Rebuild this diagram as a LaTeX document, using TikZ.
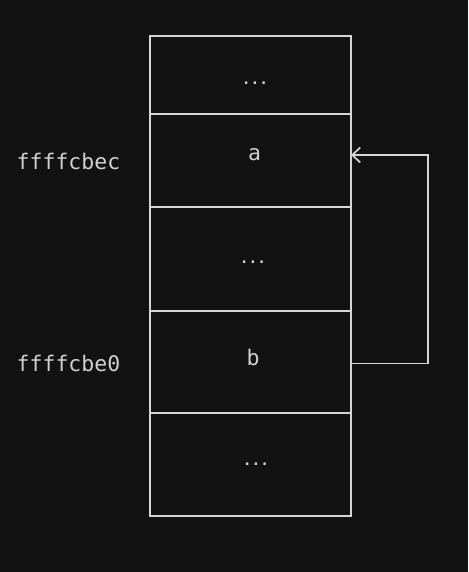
\documentclass[tikz,border=0pt]{standalone}
\usepackage{fontspec}
\setmonofont{DejaVu Sans Mono}
\usetikzlibrary{arrows.meta, positioning, calc}
\definecolor{cBg}{HTML}{121212}
\definecolor{cLine}{HTML}{D6D6D6}
\definecolor{cText}{HTML}{D0D0D0}

\begin{document}
\begin{tikzpicture}[
  x=1pt, y=-1pt,
  font=\ttfamily\fontsize{21.5}{26}\selectfont,
  cell/.style={draw=cLine, line width=1.6pt, minimum width=201pt, inner sep=0pt,
               outer sep=0pt, anchor=north},
  val/.style={text=cText, inner sep=0pt},
  dots/.style={val, font=\ttfamily\bfseries\fontsize{14.5}{18}\selectfont},
  addr/.style={text=cText, anchor=west, inner sep=0pt},
  conn/.style={draw=cLine, line width=1.7pt,
               -{Straight Barb[length=8pt, width=15pt, line width=1.7pt]}}
]
\fill[cBg] (0,0) rectangle (468,572);
\useasboundingbox (0,0) rectangle (468,572);

% memory cells, top to bottom
\node[cell, minimum height=78pt]  (c1) at (250.5,36) {};
\node[cell, minimum height=93pt, below=0pt of c1]  (ca) {};
\node[cell, minimum height=104pt, below=0pt of ca] (c3) {};
\node[cell, minimum height=102pt, below=0pt of c3] (cb) {};
\node[cell, minimum height=103pt, below=0pt of cb] (c5) {};

% cell contents
\node[dots] (t1) at (255,83.5) {...};
\node[val]  (ta) at (254.5,155) {a};
\node[dots] (t3) at (253,262.5) {...};
\node[val]  (tb) at (253,357) {b};
\node[dots] (t5) at (256,464) {...};

% addresses
\node[addr] (la) at (16.5,161.5) {ffffcbec};
\node[addr] (lb) at (16.5,363) {ffffcbe0};

% pointer from b back to a
\draw[conn] ([yshift=-1.5pt]cb.east) -- ++(77,0) |- ([yshift=5.5pt]ca.east);

\end{tikzpicture}
\end{document}
